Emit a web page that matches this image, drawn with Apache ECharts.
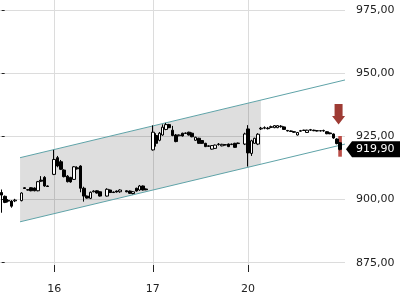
<!DOCTYPE html>
<html><head><meta charset="utf-8">
<script src="https://cdn.jsdelivr.net/npm/echarts@6/dist/echarts.min.js"></script>
<style>html,body{margin:0;padding:0;background:#fff}#c{width:400px;height:300px}</style>
</head><body><div id="c"></div>
<script>
// ---- data ----
const days = ['15', '16', '17', '20'];
const slotsPerDay = [16, 30, 29, 30];
const labelDays = ['16', '17', '20'];
const yTicks = [875, 900, 925, 950, 975];

const opens = [
 902.8, 901.3, 899.7, 899.4, 899.5, null, 899.6, 904.7, 903.9, 904.7, 904.6, 903.5, 907.7, 908.8, 905.4, null,
 910.0, 916.6, 915.0, 911.7, 909.3, 908.8, 908.0, 912.6, 913.3, 904.5, 901.4, 900.5, 903.1, 903.5, 903.1, null, 901.4, 903.8, 903.0, 903.4, 903.1, null, 903.5, 903.4, 902.4, 904.5, 903.8, 905.4, 904.2, null,
 919.7, 925.4, 923.5, 925.6, 927.8, 929.7, 927.5, 925.6, 925.3, 926.3, 926.2, 926.7, 926.3, 923.5, 924.3, 923.4, 922.3, 921.3, 920.0, 920.3, 921.8, 921.3, 921.6, 922.0, 921.8, 922.3, 922.2, null, 922.0,
 928.0, 918.3, 922.3, 922.0, 928.0, 928.3, 928.3, 928.6, 928.5, 928.5, 928.9, 928.8, 927.4, 927.2, 926.9, 925.6, 927.1, 927.5, 926.6, 927.5, 927.5, 927.3, 927.3, 927.2, 926.9, 926.4, 926.0, 924.0, 922.5, null
];
const closes = [
 901.8, 898.9, 899.4, 897.4, 899.8, null, 902.6, 904.4, 903.8, 903.5, 903.5, 907.1, 907.3, 905.4, 905.2, null,
 915.9, 913.3, 912.0, 909.1, 907.1, 907.0, 913.0, 912.2, 904.5, 901.4, 900.6, 902.9, 903.4, 902.6, 901.4, null, 904.1, 902.8, 902.8, 903.0, 903.8, null, 903.1, 902.5, 903.1, 903.4, 905.4, 903.8, 903.9, null,
 926.7, 922.3, 926.3, 928.7, 929.7, 928.5, 925.4, 923.0, 925.6, 925.2, 926.4, 925.6, 924.9, 924.7, 922.3, 922.3, 921.0, 921.1, 921.4, 921.6, 922.0, 921.9, 921.8, 921.0, 922.0, 920.7, 922.4, null, 926.0,
 918.5, 923.3, 924.3, 925.9, 928.3, 928.5, 928.1, 928.9, 929.3, 929.3, 929.1, 927.8, 927.2, 927.0, 926.7, 926.6, 927.3, 927.4, 927.5, 927.7, 927.3, 927.2, 927.2, 927.4, 926.1, 926.1, 924.4, 922.2, 919.9, null
];
const lows = [
 894.8, 898.6, 898.9, 896.8, 899.0, null, 899.3, 904.3, 903.6, 903.3, 903.3, 903.3, 907.0, 905.1, 905.0, null,
 909.7, 912.8, 911.7, 908.8, 906.8, 906.7, 907.8, 911.9, 902.9, 899.2, 900.4, 900.2, 902.9, 902.4, 901.2, null, 901.2, 902.6, 902.6, 902.8, 902.7, null, 902.9, 902.3, 902.1, 903.2, 903.5, 903.6, 903.7, null,
 919.4, 921.0, 923.1, 925.3, 927.5, 928.3, 925.1, 922.7, 925.1, 925.0, 926.0, 925.4, 924.7, 923.3, 922.1, 922.1, 920.8, 920.9, 919.8, 920.1, 921.4, 921.1, 921.4, 920.8, 921.6, 920.5, 922.0, null, 921.6,
 913.1, 917.3, 922.1, 921.6, 927.6, 927.9, 927.8, 928.3, 928.3, 928.3, 928.5, 927.6, 927.0, 926.8, 926.5, 925.4, 926.9, 927.2, 926.4, 927.2, 927.1, 927.0, 927.0, 926.9, 925.9, 925.9, 924.1, 921.9, 919.5, null
];
const highs = [
 904.0, 901.6, 900.2, 899.8, 900.3, null, 902.9, 904.9, 904.1, 904.9, 904.8, 907.4, 909.3, 909.3, 905.6, null,
 919.7, 917.3, 915.7, 912.0, 909.7, 909.0, 913.3, 913.2, 913.6, 905.1, 901.6, 903.2, 903.7, 903.7, 903.3, null, 904.5, 904.0, 903.2, 903.6, 904.1, null, 903.7, 903.6, 903.4, 904.7, 905.8, 905.6, 904.4, null,
 929.4, 926.3, 926.8, 929.8, 930.4, 930.0, 929.2, 926.0, 925.8, 926.5, 926.6, 926.9, 926.6, 924.9, 924.5, 923.6, 922.5, 921.5, 921.6, 921.8, 922.4, 922.1, 922.0, 922.2, 922.2, 922.5, 922.6, null, 926.5,
 929.5, 923.7, 924.5, 926.3, 928.8, 929.0, 928.8, 929.3, 929.5, 929.5, 929.5, 929.0, 927.6, 927.4, 927.1, 926.8, 927.6, 927.7, 927.7, 928.0, 927.7, 927.5, 927.5, 927.7, 927.1, 926.6, 926.2, 924.3, 922.8, null
];

// trend channel (x in bar-index units)
const channelX = [5.6, 104.5];
const channelUpper = [916.6, 947.4];
const channelLower = [891.2, 922.0];
const shadeX = [5.6, 78.9];
const shadeUpper = [916.6, 939.4];
const shadeLower = [891.2, 914.0];

// markers
const lastPrice = 919.90;
const rangeBar = [103, 925.2, 917.0];          // index, top, bottom
const arrowMark = [103, 937.9, 933.1, 929.8];   // index, top, head base, tip

// ---- build ----
const categories = [];
days.forEach((d, i) => { for (let k = 0; k < slotsPerDay[i]; k++) categories.push(d + '/' + k); });
const N = categories.length;
const isDayStart = (idx) => { const p = categories[idx].split('/'); return p[1] === '0' && labelDays.indexOf(p[0]) >= 0; };
const candleData = opens.map((o, i) => o == null ? '-' : [o, closes[i], lows[i], highs[i]]);
const fmt = (v) => v.toFixed(2).replace('.', ',');
const FONT = 'DejaVu Sans';

const chart = echarts.init(document.getElementById('c'), null, {renderer: 'canvas'});
chart.setOption({
  animation: false,
  backgroundColor: '#fff',
  grid: [
    {left: 0, width: 345, top: 10.3, height: 252.4},
    {left: 0, width: 345, top: 0, height: 265}
  ],
  xAxis: [
    {type: 'category', gridIndex: 0, data: categories, boundaryGap: true,
     axisLine: {show: false}, axisTick: {show: false}, axisLabel: {show: false}, splitLine: {show: false}},
    {type: 'value', gridIndex: 0, min: -0.5, max: N - 0.5, show: false},
    {type: 'category', gridIndex: 1, data: categories, boundaryGap: true, position: 'bottom', offset: 28,
     axisLine: {show: false},
     axisTick: {show: true, alignWithLabel: true, interval: (i) => isDayStart(i), length: 7, lineStyle: {color: '#222'}},
     axisLabel: {inside: true, margin: -2, interval: (i) => isDayStart(i), formatter: (v) => v.split('/')[0],
                 color: '#222', fontSize: 11, fontFamily: FONT},
     splitLine: {show: true, alignWithLabel: true, interval: (i) => isDayStart(i), lineStyle: {color: '#dcdcdc'}}}
  ],
  yAxis: [
    {type: 'value', gridIndex: 0, min: yTicks[0], max: yTicks[yTicks.length - 1], interval: yTicks[1] - yTicks[0],
     position: 'right', offset: 4,
     axisLine: {show: false},
     axisTick: {show: true, length: 3, lineStyle: {color: '#222'}},
     axisLabel: {margin: 7, formatter: fmt, color: '#222', fontSize: 11, fontFamily: FONT},
     splitLine: {lineStyle: {color: '#dcdcdc'}}},
    {type: 'value', gridIndex: 1, min: 0, max: 1, show: false}
  ],
  series: [
    {type: 'custom', xAxisIndex: 1, yAxisIndex: 0, z: 1, clip: false,
     data: [[shadeX[0], shadeUpper[0]]],
     renderItem: (p, api) => ({
       type: 'polygon',
       shape: {points: [api.coord([shadeX[0], shadeUpper[0]]), api.coord([shadeX[1], shadeUpper[1]]),
                        api.coord([shadeX[1], shadeLower[1]]), api.coord([shadeX[0], shadeLower[0]])]},
       style: {fill: 'rgba(0,0,0,0.13)'}
     })},
    {type: 'line', xAxisIndex: 1, yAxisIndex: 0, z: 3, symbol: 'none',
     data: channelX.map((x, i) => [x, channelUpper[i]]), lineStyle: {color: '#5fa3a8', width: 1}},
    {type: 'line', xAxisIndex: 1, yAxisIndex: 0, z: 3, symbol: 'none',
     data: channelX.map((x, i) => [x, channelLower[i]]), lineStyle: {color: '#5fa3a8', width: 1}},
    {type: 'custom', xAxisIndex: 1, yAxisIndex: 0, z: 4, clip: false,
     data: [rangeBar],
     renderItem: (p, api) => {
       const a = api.coord([api.value(0), api.value(1)]);
       const b = api.coord([api.value(0), api.value(2)]);
       return {type: 'rect', shape: {x: a[0] - 1.8, y: a[1], width: 3.6, height: b[1] - a[1]}, style: {fill: '#bb4d47'}};
     }},
    {type: 'candlestick', xAxisIndex: 0, yAxisIndex: 0, z: 5, data: candleData, barWidth: 3,
     itemStyle: {color: '#fff', color0: '#000', borderColor: '#000', borderColor0: '#000', borderWidth: 1}},
    {type: 'custom', xAxisIndex: 1, yAxisIndex: 0, z: 6, clip: false,
     data: [arrowMark],
     renderItem: (p, api) => {
       const t = api.coord([api.value(0), api.value(1)]);
       const h = api.coord([api.value(0), api.value(2)]);
       const tip = api.coord([api.value(0), api.value(3)]);
       const x = t[0] - 1.5;
       return {type: 'polygon', shape: {points: [[x - 4, t[1]], [x + 4, t[1]], [x + 4, h[1]], [x + 6.5, h[1]],
                                                 [x, tip[1]], [x - 6.5, h[1]], [x - 4, h[1]]]},
               style: {fill: '#9e3b34'}};
     }},
    {type: 'custom', xAxisIndex: 1, yAxisIndex: 0, z: 7, clip: false,
     data: [[N - 0.5, lastPrice]],
     renderItem: (p, api) => {
       const c = api.coord([api.value(0), api.value(1)]);
       const x = c[0], y = c[1];
       return {type: 'group', children: [
         {type: 'polygon', shape: {points: [[x + 1, y], [x + 7, y - 8], [x + 56, y - 8], [x + 56, y + 8], [x + 7, y + 8]]},
          style: {fill: '#000'}},
         {type: 'text', style: {x: x + 11, y: y, text: fmt(api.value(1)), fill: '#fff', font: '11px "DejaVu Sans"',
          verticalAlign: 'middle', align: 'left'}}
       ]};
     }}
  ]
});
</script></body></html>
